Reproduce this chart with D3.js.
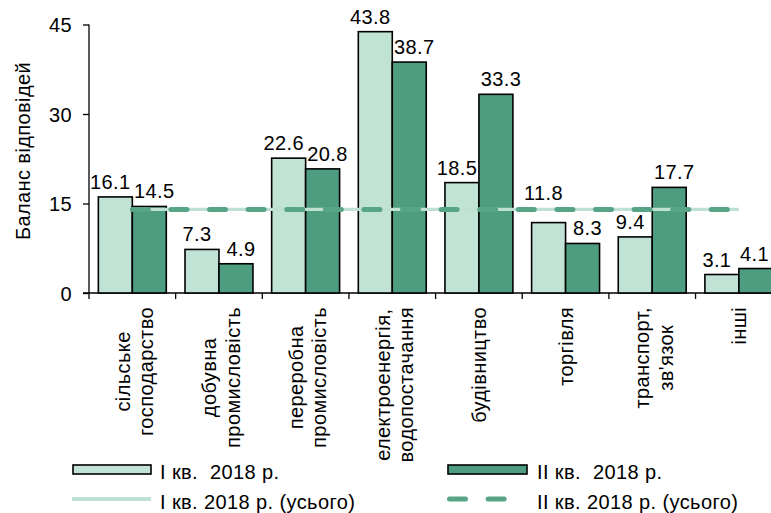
<!DOCTYPE html>
<html>
<head>
<meta charset="utf-8">
<script src="https://cdn.jsdelivr.net/npm/d3@7/dist/d3.min.js"></script>
<style>
  html, body { margin: 0; padding: 0; background: #fff; }
  svg text { font-family: "Liberation Sans", Arial, sans-serif; fill: #000; }
</style>
</head>
<body>
<svg id="chart" width="771" height="513"></svg>
<script>
// ---- data ----
const categories = [
  ["сільське", "господарство"],
  ["добувна", "промисловість"],
  ["переробна", "промисловість"],
  ["електроенергія,", "водопостачання"],
  ["будівництво"],
  ["торгівля"],
  ["транспорт,", "зв'язок"],
  ["інші"]
];
const seriesNames = ["I кв.  2018 р.", "II кв.  2018 р."];
const avgNames = ["I кв. 2018 р. (усього)", "II кв. 2018 р. (усього)"];
const q1Values = [16.1, 7.3, 22.6, 43.8, 18.5, 11.8, 9.4, 3.1];
const q2Values = [14.5, 4.9, 20.8, 38.7, 33.3, 8.3, 17.7, 4.1];
const q1Average = 14.0;
const q2Average = 14.0;
const yTicks = [0, 15, 30, 45];
const yTitle = "Баланс відповідей";

// ---- styles ----
const lightFill = "#c1e3d5";
const darkFill = "#4f9d81";
const lightLine = "#bfe1d4";
const darkDash = "#58a487";
const FONT = 20;
const LS = 0.4;
const W = 771;

const svg = d3.select("#chart");
const catKeys = categories.map((c, i) => i);

const x = d3.scaleBand().domain(catKeys).range([89, 782.2]).padding(0);
const bw = x.bandwidth();
const x1 = d3.scaleBand().domain([0, 1]).range([bw * 0.108, bw * 0.892]).padding(0);
const y = d3.scaleLinear().domain([0, 45]).range([293, 24.5]);

// ---- axes ----
const yAxis = svg.append("g").attr("transform", "translate(89,0)")
  .call(d3.axisLeft(y).tickValues(yTicks).tickSize(6).tickPadding(11).tickFormat(d3.format("d")));
yAxis.select(".domain").attr("stroke", "#000").attr("stroke-width", 1.3).attr("d", `M0,${y(45)}V${y(0)}`);
yAxis.selectAll(".tick line").attr("stroke", "#000").attr("stroke-width", 1.3);
yAxis.selectAll(".tick text").attr("font-size", FONT).attr("letter-spacing", LS)
  .attr("font-family", "Liberation Sans, Arial, sans-serif").attr("fill", "#000").attr("dy", "0.36em");

// x axis line
svg.append("line").attr("x1", 83).attr("x2", W).attr("y1", y(0)).attr("y2", y(0))
  .attr("stroke", "#000").attr("stroke-width", 1.3);
// x ticks at band boundaries
const bounds = catKeys.map(k => x(k));
svg.append("g").selectAll("line").data(bounds).join("line")
  .attr("x1", d => d).attr("x2", d => d).attr("y1", y(0)).attr("y2", y(0) + 6)
  .attr("stroke", "#000").attr("stroke-width", 1.3);

// y title
svg.append("text")
  .attr("transform", `translate(30,${151}) rotate(-90)`)
  .attr("text-anchor", "middle").attr("font-size", FONT).attr("letter-spacing", LS)
  .text(yTitle);

// ---- bars ----
const rows = catKeys.map(i => ({ i, vals: [q1Values[i], q2Values[i]] }));
const groups = svg.append("g").selectAll("g").data(rows).join("g")
  .attr("transform", d => `translate(${x(d.i)},0)`);
groups.selectAll("rect").data(d => d.vals.map((v, s) => ({ v, s }))).join("rect")
  .attr("x", d => x1(d.s)).attr("width", x1.bandwidth())
  .attr("y", d => y(d.v)).attr("height", d => y(0) - y(d.v))
  .attr("fill", d => d.s === 0 ? lightFill : darkFill)
  .attr("stroke", "#000").attr("stroke-width", 1.6);

// ---- average lines ----
const xStart = x(catKeys[0]) + bw / 2;
const xEnd = x(catKeys[catKeys.length - 1]) + bw / 2;
svg.append("line").attr("x1", xStart).attr("x2", xEnd).attr("y1", y(q1Average)).attr("y2", y(q1Average))
  .attr("stroke", lightLine).attr("stroke-width", 3.3);
svg.append("line").attr("x1", xStart).attr("x2", xEnd).attr("y1", y(q2Average)).attr("y2", y(q2Average))
  .attr("stroke", darkDash).attr("stroke-width", 5).attr("stroke-linecap", "round")
  .attr("stroke-dasharray", "16,22.6");

// ---- value labels ----
const lineY = y(q2Average);
const labelG = svg.append("g");
rows.forEach(r => {
  r.vals.forEach((v, s) => {
    let cx = x(r.i) + x1(s) + x1.bandwidth() / 2 + (s === 0 ? -5 : 5);
    let base = y(v) - 8;
    const top = base - 14, bottom = base + 1;
    if (bottom > lineY - 4 && top < lineY + 4) base = lineY - 9;
    const t = labelG.append("text").attr("y", base)
      .attr("text-anchor", "middle").attr("font-size", FONT).attr("letter-spacing", LS)
      .text(d3.format(".1f")(v));
    const len = t.node().getComputedTextLength();
    if (cx + len / 2 > W - 2) cx = W - 2 - len / 2;
    t.attr("x", cx);
  });
});

// ---- category labels ----
const catG = svg.append("g");
categories.forEach((lines, i) => {
  const cx = x(i) + bw / 2;
  const n = lines.length;
  const g = catG.append("g");
  const texts = lines.map((t, j) => g.append("text")
    .attr("text-anchor", "middle").attr("font-size", FONT).attr("letter-spacing", LS).text(t));
  const maxL = d3.max(texts, t => t.node().getComputedTextLength());
  const yc = 307 + maxL / 2;
  texts.forEach((t, j) => {
    const bx = cx + 7 + (n - 1) * 2 + (j - (n - 1) / 2) * 23.5;
    t.attr("transform", `translate(${bx},${yc}) rotate(-90)`);
  });
});

// ---- legend ----
const leg = svg.append("g");
leg.append("rect").attr("x", 73).attr("y", 465).attr("width", 78).attr("height", 9)
  .attr("fill", lightFill).attr("stroke", "#000").attr("stroke-width", 1.6);
leg.append("text").attr("x", 160).attr("y", 479).attr("font-size", FONT).attr("letter-spacing", LS)
  .style("white-space", "pre").text(seriesNames[0]);
leg.append("rect").attr("x", 448).attr("y", 465).attr("width", 79).attr("height", 9)
  .attr("fill", darkFill).attr("stroke", "#000").attr("stroke-width", 1.6);
leg.append("text").attr("x", 537).attr("y", 479).attr("font-size", FONT).attr("letter-spacing", LS)
  .style("white-space", "pre").text(seriesNames[1]);
leg.append("line").attr("x1", 72).attr("x2", 151).attr("y1", 499).attr("y2", 499)
  .attr("stroke", lightLine).attr("stroke-width", 4);
leg.append("text").attr("x", 160).attr("y", 509).attr("font-size", FONT).attr("letter-spacing", LS)
  .text(avgNames[0]);
leg.append("line").attr("x1", 449.5).attr("x2", 507).attr("y1", 499).attr("y2", 499)
  .attr("stroke", darkDash).attr("stroke-width", 5).attr("stroke-linecap", "round")
  .attr("stroke-dasharray", "16,22.6");
leg.append("text").attr("x", 537).attr("y", 509).attr("font-size", FONT).attr("letter-spacing", LS)
  .text(avgNames[1]);
</script>
</body>
</html>
